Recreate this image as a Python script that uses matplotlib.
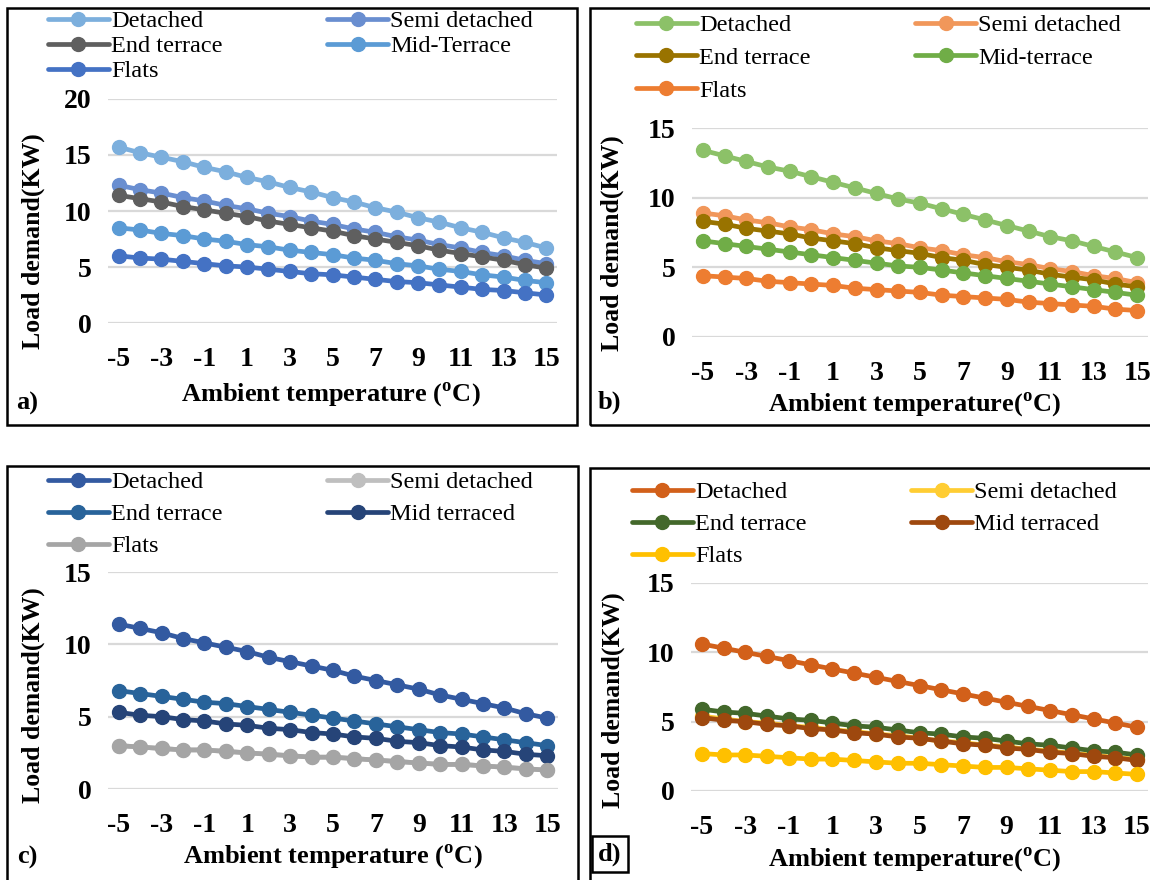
import matplotlib.pyplot as plt
from matplotlib.patches import Rectangle

plt.rcParams['font.family'] = ['Liberation Serif', 'DejaVu Serif']
plt.rcParams['mathtext.fontset'] = 'custom'
plt.rcParams['mathtext.rm'] = 'Liberation Serif'
plt.rcParams['mathtext.bf'] = 'Liberation Serif:bold'
plt.rcParams['axes.unicode_minus'] = False

W, H = 1150, 880

temps = list(range(-5, 16))

# panel a
a_detached = [15.7, 15.2, 14.8, 14.4, 13.9, 13.5, 13.0, 12.6, 12.1, 11.7, 11.2,
              10.8, 10.3, 9.9, 9.4, 9.0, 8.5, 8.1, 7.6, 7.2, 6.7]
a_semi = [12.3, 11.9, 11.6, 11.2, 10.9, 10.5, 10.2, 9.8, 9.5, 9.1, 8.8,
          8.4, 8.1, 7.7, 7.4, 7.0, 6.7, 6.3, 6.0, 5.6, 5.3]
a_end = [11.4, 11.1, 10.8, 10.4, 10.1, 9.8, 9.5, 9.1, 8.8, 8.5, 8.2,
         7.8, 7.5, 7.2, 6.9, 6.5, 6.2, 5.9, 5.6, 5.2, 4.9]
a_mid = [8.5, 8.3, 8.0, 7.8, 7.5, 7.3, 7.0, 6.8, 6.5, 6.3, 6.1,
         5.8, 5.6, 5.3, 5.1, 4.8, 4.6, 4.3, 4.1, 3.8, 3.6]
a_flats = [6.0, 5.8, 5.7, 5.5, 5.3, 5.1, 5.0, 4.8, 4.6, 4.4, 4.3,
           4.1, 3.9, 3.7, 3.6, 3.4, 3.2, 3.0, 2.9, 2.7, 2.5]

# panel b
b_detached = [13.4, 13.0, 12.6, 12.2, 11.9, 11.5, 11.1, 10.7, 10.3, 9.9, 9.6,
              9.2, 8.8, 8.4, 8.0, 7.6, 7.2, 6.9, 6.5, 6.1, 5.7]
b_semi = [8.9, 8.7, 8.4, 8.2, 7.9, 7.7, 7.4, 7.2, 6.9, 6.7, 6.4,
          6.2, 5.9, 5.7, 5.4, 5.2, 4.9, 4.7, 4.4, 4.2, 3.9]
b_end = [8.3, 8.1, 7.8, 7.6, 7.4, 7.1, 6.9, 6.7, 6.4, 6.2, 6.0,
         5.7, 5.5, 5.2, 5.0, 4.8, 4.5, 4.3, 4.1, 3.8, 3.6]
b_mid = [6.9, 6.7, 6.5, 6.3, 6.1, 5.9, 5.7, 5.5, 5.3, 5.1, 5.0,
         4.8, 4.6, 4.4, 4.2, 4.0, 3.8, 3.6, 3.4, 3.2, 3.0]
b_flats = [4.4, 4.3, 4.2, 4.0, 3.9, 3.8, 3.7, 3.5, 3.4, 3.3, 3.2,
           3.0, 2.9, 2.8, 2.7, 2.5, 2.4, 2.3, 2.2, 2.0, 1.9]

# panel c
c_detached = [11.4, 11.1, 10.8, 10.4, 10.1, 9.8, 9.5, 9.1, 8.8, 8.5, 8.2,
              7.8, 7.5, 7.2, 6.9, 6.5, 6.2, 5.9, 5.6, 5.2, 4.9]
c_semi = [3.0, 2.9, 2.8, 2.7, 2.7, 2.6, 2.5, 2.4, 2.3, 2.2, 2.2,
          2.1, 2.0, 1.9, 1.8, 1.7, 1.7, 1.6, 1.5, 1.4, 1.3]
c_end = [6.8, 6.6, 6.4, 6.2, 6.0, 5.9, 5.7, 5.5, 5.3, 5.1, 4.9,
         4.7, 4.5, 4.3, 4.1, 3.9, 3.8, 3.6, 3.4, 3.2, 3.0]
c_mid = [5.3, 5.1, 5.0, 4.8, 4.7, 4.5, 4.4, 4.2, 4.1, 3.9, 3.8,
         3.6, 3.5, 3.3, 3.2, 3.0, 2.9, 2.7, 2.6, 2.4, 2.3]
c_flats = [3.0, 2.9, 2.8, 2.7, 2.7, 2.6, 2.5, 2.4, 2.3, 2.2, 2.2,
           2.1, 2.0, 1.9, 1.8, 1.7, 1.7, 1.6, 1.5, 1.4, 1.3]

# panel d
d_detached = [10.6, 10.3, 10.0, 9.7, 9.4, 9.1, 8.8, 8.5, 8.2, 7.9, 7.6,
              7.3, 7.0, 6.7, 6.4, 6.1, 5.8, 5.5, 5.2, 4.9, 4.6]
d_semi = [5.4, 5.2, 5.0, 4.9, 4.7, 4.6, 4.4, 4.3, 4.1, 4.0, 3.8,
          3.6, 3.5, 3.3, 3.2, 3.0, 2.9, 2.7, 2.6, 2.4, 2.3]
d_end = [5.9, 5.7, 5.6, 5.4, 5.2, 5.1, 4.9, 4.7, 4.6, 4.4, 4.2,
         4.1, 3.9, 3.8, 3.6, 3.4, 3.3, 3.1, 2.9, 2.8, 2.6]
d_mid = [5.3, 5.1, 5.0, 4.8, 4.7, 4.5, 4.4, 4.2, 4.1, 3.9, 3.8,
         3.6, 3.4, 3.3, 3.1, 3.0, 2.8, 2.7, 2.5, 2.4, 2.2]
d_flats = [2.7, 2.6, 2.6, 2.5, 2.4, 2.3, 2.3, 2.2, 2.1, 2.0, 2.0,
           1.9, 1.8, 1.7, 1.7, 1.6, 1.5, 1.4, 1.4, 1.3, 1.2]

xlab_sp = 'Ambient temperature ($^{\\mathbf{o}}$C)'
xlab_ns = 'Ambient temperature($^{\\mathbf{o}}$C)'

panels = [
    dict(series=[a_detached, a_semi, a_end, a_mid, a_flats],
         labels=['Detached', 'Semi detached', 'End terrace', 'Mid-Terrace', 'Flats'],
         colors=['#7CAFDD', '#698ED0', '#5F5F5F', '#5B9BD5', '#4472C4'],
         ax_px=(108, 99, 557, 323), ymax=20, legend=(48, 10, 0.13),
         ylab=(33, 241), xlab=(331, 395, xlab_sp),
         tag=(27, 403, 'a)'), box=(7, 8, 577, 425)),
    dict(series=[b_detached, b_semi, b_end, b_mid, b_flats],
         labels=['Detached', 'Semi detached', 'End terrace', 'Mid-terrace', 'Flats'],
         colors=['#8CC168', '#F1975A', '#997300', '#70AD47', '#ED7D31'],
         ax_px=(692, 128, 1148, 337), ymax=15, legend=(636, 14, 0.45),
         ylab=(612, 243), xlab=(915, 405, xlab_ns),
         tag=(609, 402, 'b)'), box=(590, 8, 1153, 425)),
    dict(series=[c_detached, c_semi, c_end, c_mid, c_flats],
         labels=['Detached', 'Semi detached', 'End terrace', 'Mid terraced', 'Flats'],
         colors=['#335AA1', '#BFBFBF', '#28639A', '#264478', '#A5A5A5'],
         ax_px=(108, 572, 558, 789), ymax=15, legend=(48, 471, 0.42),
         ylab=(33, 695), xlab=(333, 857, xlab_sp),
         tag=(27, 857, 'c)'), box=(7, 466, 578, 882)),
    dict(series=[d_detached, d_semi, d_end, d_mid, d_flats],
         labels=['Detached', 'Semi detached', 'End terrace', 'Mid terraced', 'Flats'],
         colors=['#D2601A', '#FFCD33', '#43682B', '#9E480E', '#FFC000'],
         ax_px=(691, 583, 1148, 791), ymax=15, legend=(632, 481, 0.42),
         ylab=(613, 700), xlab=(915, 860, xlab_ns),
         tag=(610, 854, 'd)'), box=(590, 468, 1153, 882)),
]

fig = plt.figure(figsize=(W / 100, H / 100), dpi=100)


def fx(x):
    return x / W


def fy(y):
    return 1 - y / H


for p in panels:
    x0, y0, x1, y1 = p['ax_px']
    ax = fig.add_axes([fx(x0), fy(y1), (x1 - x0) / W, (y1 - y0) / H])
    handles = []
    for vals, lab, col in zip(p['series'], p['labels'], p['colors']):
        h, = ax.plot(temps, vals, color=col, lw=3.4, marker='o', ms=10,
                     label=lab, solid_capstyle='round')
        handles.append(h)
    ax.set_xlim(-5.5, 15.5)
    ax.set_ylim(0, p['ymax'])
    ax.set_xticks(range(-5, 16, 2))
    ax.set_yticks(range(0, p['ymax'] + 1, 5))
    ax.grid(axis='y', color='#D9D9D9', lw=1.6)
    ax.set_axisbelow(True)
    for s in ax.spines.values():
        s.set_visible(False)
    ax.tick_params(length=0, labelsize=20, pad=12)
    ax.tick_params(axis='x', pad=17)
    for t in ax.get_xticklabels() + ax.get_yticklabels():
        t.set_fontweight('bold')

    # legend laid out row by row: reorder for column filling
    order = [0, 2, 4, 1, 3]
    lx, ly, lsp = p['legend']
    fig.legend([handles[i] for i in order], [p['labels'][i] for i in order],
               loc='upper left', bbox_to_anchor=(fx(lx), fy(ly)), ncol=2,
               frameon=False, fontsize=17.5, handlelength=2.5, handletextpad=0.1,
               columnspacing=4.3, labelspacing=lsp, borderpad=0, borderaxespad=0)

    fig.text(fx(p['ylab'][0]), fy(p['ylab'][1]), 'Load demand(KW)', rotation=90,
             ha='center', va='center', fontsize=18.5, fontweight='bold')
    fig.text(fx(p['xlab'][0]), fy(p['xlab'][1]), p['xlab'][2],
             ha='center', va='center', fontsize=19, fontweight='bold')
    tx, ty, tag = p['tag']
    fig.text(fx(tx), fy(ty), tag, ha='center', va='center', fontsize=19,
             fontweight='bold')

    bx0, by0, bx1, by1 = p['box']
    fig.add_artist(Rectangle((fx(bx0), fy(by1)), (bx1 - bx0) / W, (by1 - by0) / H,
                             transform=fig.transFigure, fill=False,
                             edgecolor='black', lw=1.8))

# small frame around the d) tag
fig.add_artist(Rectangle((fx(592), fy(872)), 36 / W, 36 / H,
                         transform=fig.transFigure, fill=False,
                         edgecolor='black', lw=1.8))

fig.savefig('out.png', dpi=100)
